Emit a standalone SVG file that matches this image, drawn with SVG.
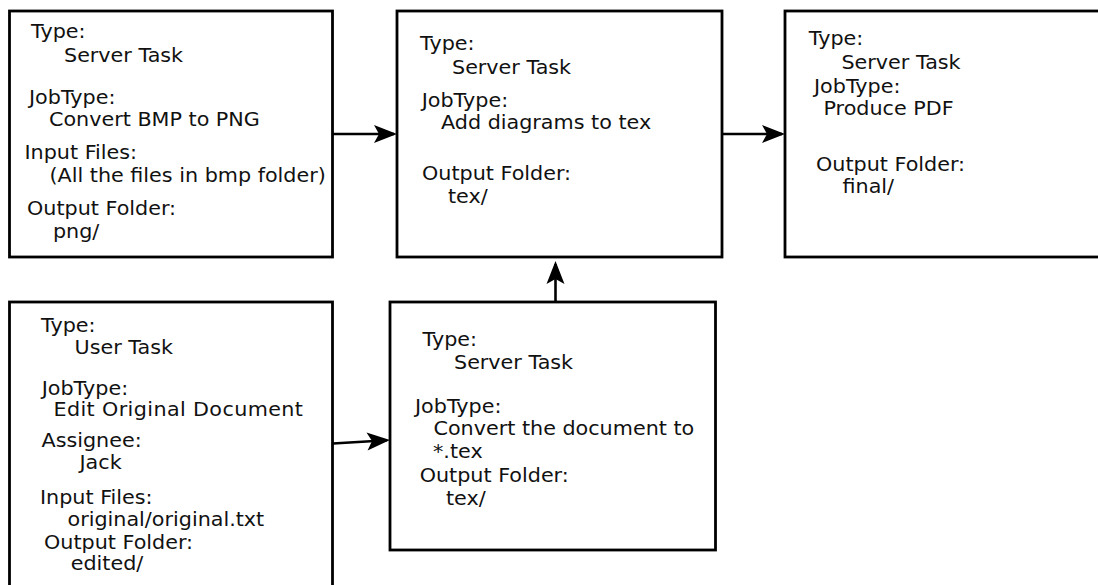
<svg xmlns="http://www.w3.org/2000/svg" width="1098" height="585" viewBox="0 0 1098 585">
  <style>
    .box { fill: #ffffff; stroke: #000000; stroke-width: 2.8; }
    .lbl { font-family: "DejaVu Sans", "Liberation Sans", sans-serif; font-size: 19px; fill: #111111; }
    .wire { fill: none; stroke: #000000; stroke-width: 2.6; }
  </style>
  <defs>
    <marker id="head" markerUnits="userSpaceOnUse" markerWidth="40" markerHeight="40" refX="0" refY="0" orient="auto" overflow="visible">
      <path d="M3,0 L-20,-9 L-15,0 L-20,9 Z" fill="#000000"/>
    </marker>
  </defs>
  <rect width="1098" height="585" fill="#ffffff"/>

  <!-- Convert BMP to PNG -->
  <g id="node-bmp2png">
    <rect class="box" x="9.5" y="11" width="323" height="246"/>
    <g class="lbl" transform="scale(1.09 1)">
      <text x="28.44" y="38.5">Type:</text>
      <text x="58.72" y="62">Server Task</text>
      <text x="26.61" y="104">JobType:</text>
      <text x="44.95" y="126">Convert BMP to PNG</text>
      <text x="22.48" y="159">Input Files:</text>
      <text x="45.41" y="182">(All the files in bmp folder)</text>
      <text x="24.77" y="215">Output Folder:</text>
      <text x="48.62" y="238">png/</text>
    </g>
  </g>

  <!-- Add diagrams to tex -->
  <g id="node-diagrams">
    <rect class="box" x="397" y="11" width="325" height="246"/>
    <g class="lbl" transform="scale(1.09 1)">
      <text x="385.32" y="50.5">Type:</text>
      <text x="414.68" y="74">Server Task</text>
      <text x="386.88" y="107.5">JobType:</text>
      <text x="404.59" y="129.3">Add diagrams to tex</text>
      <text x="387.16" y="180.5">Output Folder:</text>
      <text x="411.01" y="203.3">tex/</text>
    </g>
  </g>

  <!-- Produce PDF -->
  <g id="node-pdf">
    <rect class="box" x="785" y="11" width="330" height="246"/>
    <g class="lbl" transform="scale(1.09 1)">
      <text x="742" y="45">Type:</text>
      <text x="772" y="68.8">Server Task</text>
      <text x="746.79" y="93.3">JobType:</text>
      <text x="755.5" y="115">Produce PDF</text>
      <text x="748.62" y="171">Output Folder:</text>
      <text x="772.94" y="193">final/</text>
    </g>
  </g>

  <!-- Edit Original Document -->
  <g id="node-edit">
    <rect class="box" x="9.5" y="302" width="323" height="300"/>
    <g class="lbl" transform="scale(1.09 1)">
      <text x="37.61" y="332">Type:</text>
      <text x="68.35" y="354.5">User Task</text>
      <text x="38.26" y="395">JobType:</text>
      <text x="49.08" y="416.5" letter-spacing="0.35">Edit Original Document</text>
      <text x="38.07" y="447">Assignee:</text>
      <text x="72.94" y="469.5">Jack</text>
      <text x="36.7" y="504">Input Files:</text>
      <text x="61.93" y="526">original/original.txt</text>
      <text x="40.37" y="549">Output Folder:</text>
      <text x="64.86" y="570">edited/</text>
    </g>
  </g>

  <!-- Convert the document to *.tex -->
  <g id="node-convert">
    <rect class="box" x="390" y="302" width="325.5" height="248"/>
    <g class="lbl" transform="scale(1.09 1)">
      <text x="387.61" y="346">Type:</text>
      <text x="416.51" y="369.5">Server Task</text>
      <text x="380.73" y="413.5">JobType:</text>
      <text x="397.71" y="435">Convert the document to</text>
      <text x="397.25" y="458">*.tex</text>
      <text x="385.05" y="482.5">Output Folder:</text>
      <text x="409.17" y="505">tex/</text>
    </g>
  </g>

  <g id="connectors">
    <path class="wire" d="M333,134 L394,134" marker-end="url(#head)"/>
    <path class="wire" d="M722,134 L782,134" marker-end="url(#head)"/>
    <path class="wire" d="M555.5,302 L555.5,264" marker-end="url(#head)"/>
    <path class="wire" d="M333,443.5 L387,440.2" marker-end="url(#head)"/>
  </g>
</svg>
